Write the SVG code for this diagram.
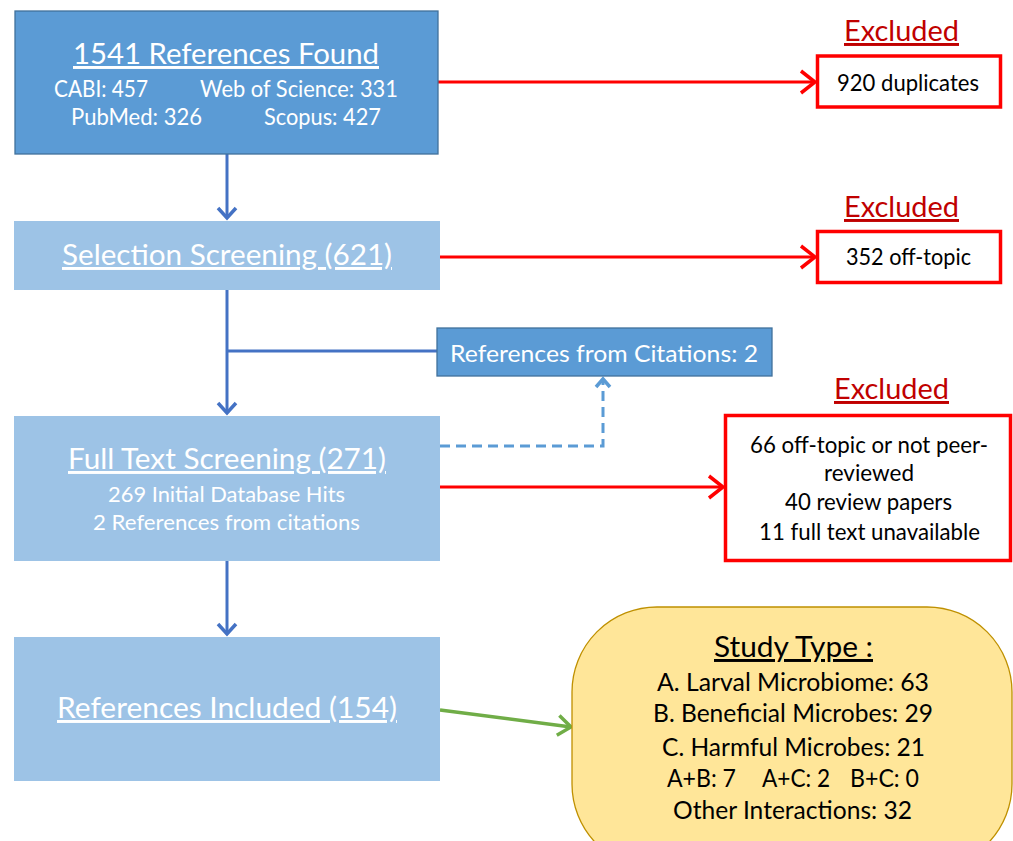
<svg xmlns="http://www.w3.org/2000/svg" width="1013" height="841" viewBox="0 0 1013 841">
<style>
  text { font-family: Lato, "Open Sans", "Liberation Sans", sans-serif; }
  .w { fill: #FFFFFF; }
  .k { fill: #000000; }
  .red { fill: #C00000; font-size: 29.5px; text-decoration: underline; }
  .big { font-size: 29.5px; }
  .mid { font-size: 22.5px; }
  .small { font-size: 21.5px; }
  .st { font-size: 24.5px; }
  .ul { text-decoration: underline; }
  .dark { fill: #5B9BD5; stroke: #41719C; stroke-width: 1.3; }
  .light { fill: #9DC3E6; }
  .exbox { fill: #FFFFFF; stroke: #FF0000; stroke-width: 3.5; }
  .blue { stroke: #4472C4; stroke-width: 3; fill: none; }
  .redl { stroke: #FF0000; stroke-width: 3; fill: none; }
  .dash { stroke: #5B9BD5; stroke-width: 3; fill: none; stroke-dasharray: 10 6; }
  .green { stroke: #70AD47; stroke-width: 3.5; fill: none; }
</style>
<defs>
  <marker id="ahBlue" viewBox="0 0 22 22" refX="19" refY="11" markerWidth="22" markerHeight="22" markerUnits="userSpaceOnUse" orient="auto">
    <path d="M9,2 L19,11 L9,20" fill="none" stroke="#4472C4" stroke-width="3.5"/>
  </marker>
  <marker id="ahRed" viewBox="0 0 24 26" refX="20" refY="13" markerWidth="24" markerHeight="26" markerUnits="userSpaceOnUse" orient="auto">
    <path d="M6,2 L20,13 L6,24" fill="none" stroke="#FF0000" stroke-width="3.5"/>
  </marker>
  <marker id="ahDash" viewBox="0 0 20 20" refX="17" refY="10" markerWidth="20" markerHeight="20" markerUnits="userSpaceOnUse" orient="auto">
    <path d="M9,3 L17,10 L9,17" fill="none" stroke="#5B9BD5" stroke-width="3.5"/>
  </marker>
  <marker id="ahGreen" viewBox="0 0 24 26" refX="20" refY="13" markerWidth="24" markerHeight="26" markerUnits="userSpaceOnUse" orient="auto">
    <path d="M7,3 L20,13 L7,23" fill="none" stroke="#70AD47" stroke-width="3.5"/>
  </marker>
</defs>

<g id="connectors">
  <line class="blue" x1="227" y1="154" x2="227" y2="218" marker-end="url(#ahBlue)"/>
  <line class="blue" x1="227" y1="290" x2="227" y2="413" marker-end="url(#ahBlue)"/>
  <line class="blue" x1="227" y1="351" x2="437" y2="351"/>
  <line class="blue" x1="227" y1="561" x2="227" y2="634" marker-end="url(#ahBlue)"/>
  <line class="redl" x1="438" y1="82" x2="815" y2="82" marker-end="url(#ahRed)"/>
  <line class="redl" x1="440" y1="257" x2="815" y2="257" marker-end="url(#ahRed)"/>
  <line class="redl" x1="440" y1="487" x2="723" y2="487" marker-end="url(#ahRed)"/>
  <path class="dash" d="M440,446 H603 V379" marker-end="url(#ahDash)"/>
  <line class="green" x1="440" y1="710" x2="571" y2="727" marker-end="url(#ahGreen)"/>
</g>

<g id="found">
  <rect class="dark" x="15" y="11" width="423" height="143"/>
  <text class="w big ul" x="73" y="64" textLength="306" lengthAdjust="spacingAndGlyphs">1541 References Found</text>
  <text class="w mid" x="54" y="97" textLength="94" lengthAdjust="spacingAndGlyphs">CABI: 457</text>
  <text class="w mid" x="200" y="97" textLength="198" lengthAdjust="spacingAndGlyphs">Web of Science: 331</text>
  <text class="w mid" x="71" y="125" textLength="131" lengthAdjust="spacingAndGlyphs">PubMed: 326</text>
  <text class="w mid" x="264" y="125" textLength="117" lengthAdjust="spacingAndGlyphs">Scopus: 427</text>
</g>

<g id="selection">
  <rect class="light" x="14" y="221" width="426" height="69"/>
  <text class="w big ul" x="62" y="265" textLength="330" lengthAdjust="spacingAndGlyphs">Selection Screening (621)</text>
</g>

<g id="citations">
  <rect class="dark" x="437" y="328" width="335" height="48"/>
  <text class="w mid" x="450" y="362" textLength="308" lengthAdjust="spacingAndGlyphs">References from Citations: 2</text>
</g>

<g id="fulltext">
  <rect class="light" x="14" y="416" width="426" height="145"/>
  <text class="w big ul" x="68" y="469" textLength="318" lengthAdjust="spacingAndGlyphs">Full Text Screening (271)</text>
  <text class="w small" x="108" y="502" textLength="237" lengthAdjust="spacingAndGlyphs">269 Initial Database Hits</text>
  <text class="w small" x="93" y="530" textLength="267" lengthAdjust="spacingAndGlyphs">2 References from citations</text>
</g>

<g id="included">
  <rect class="light" x="14" y="637" width="426" height="144"/>
  <text class="w big ul" x="57" y="718" textLength="340" lengthAdjust="spacingAndGlyphs">References Included (154)</text>
</g>

<g id="excluded1">
  <text class="red" x="844" y="41" textLength="115" lengthAdjust="spacingAndGlyphs">Excluded</text>
  <rect class="exbox" x="817.5" y="56" width="183" height="51"/>
  <text class="k mid" x="837" y="91" textLength="142" lengthAdjust="spacingAndGlyphs">920 duplicates</text>
</g>

<g id="excluded2">
  <text class="red" x="844" y="217" textLength="115" lengthAdjust="spacingAndGlyphs">Excluded</text>
  <rect class="exbox" x="817.5" y="231.5" width="183" height="51"/>
  <text class="k mid" x="846" y="265" textLength="125" lengthAdjust="spacingAndGlyphs">352 off-topic</text>
</g>

<g id="excluded3">
  <text class="red" x="834" y="399" textLength="115" lengthAdjust="spacingAndGlyphs">Excluded</text>
  <rect class="exbox" x="725.5" y="415.5" width="285" height="145"/>
  <text class="k mid" x="750" y="453" textLength="238" lengthAdjust="spacingAndGlyphs">66 off-topic or not peer-</text>
  <text class="k mid" x="824" y="481" textLength="90" lengthAdjust="spacingAndGlyphs">reviewed</text>
  <text class="k mid" x="785" y="510" textLength="167" lengthAdjust="spacingAndGlyphs">40 review papers</text>
  <text class="k mid" x="759" y="540" textLength="221" lengthAdjust="spacingAndGlyphs">11 full text unavailable</text>
</g>

<g id="studytype">
  <rect x="572" y="607" width="440" height="262" rx="85" ry="85" fill="#FFE699" stroke="#BF9000" stroke-width="1.3"/>
  <text class="k ul" style="font-size:29.5px" x="714" y="657" textLength="159" lengthAdjust="spacingAndGlyphs">Study Type :</text>
  <text class="k st" x="657" y="691" textLength="272" lengthAdjust="spacingAndGlyphs">A. Larval Microbiome: 63</text>
  <text class="k st" x="653" y="722" textLength="280" lengthAdjust="spacingAndGlyphs">B. Beneficial Microbes: 29</text>
  <text class="k st" x="662" y="756" textLength="263" lengthAdjust="spacingAndGlyphs">C. Harmful Microbes: 21</text>
  <text class="k st" y="787"><tspan x="667" textLength="69" lengthAdjust="spacingAndGlyphs">A+B: 7</tspan><tspan x="762" textLength="68" lengthAdjust="spacingAndGlyphs">A+C: 2</tspan><tspan x="850" textLength="69" lengthAdjust="spacingAndGlyphs">B+C: 0</tspan></text>
  <text class="k st" x="673" y="819" textLength="239" lengthAdjust="spacingAndGlyphs">Other Interactions: 32</text>
</g>
</svg>
